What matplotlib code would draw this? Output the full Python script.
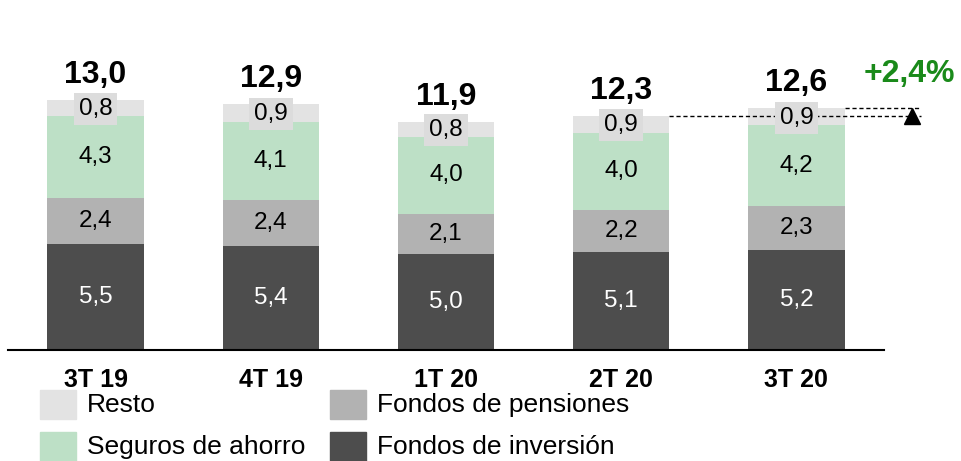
import matplotlib
matplotlib.use("Agg")
import matplotlib.pyplot as plt
from matplotlib.patches import Rectangle

plt.rcParams['font.family'] = ['Liberation Sans', 'DejaVu Sans']

categories = ["3T 19", "4T 19", "1T 20", "2T 20", "3T 20"]
fondos_inversion = [5.5, 5.4, 5.0, 5.1, 5.2]
fondos_pensiones = [2.4, 2.4, 2.1, 2.2, 2.3]
seguros_ahorro = [4.3, 4.1, 4.0, 4.0, 4.2]
resto = [0.8, 0.9, 0.8, 0.9, 0.9]
totals = [13.0, 12.9, 11.9, 12.3, 12.6]
totals_txt = ["13,0", "12,9", "11,9", "12,3", "12,6"]
growth_txt = "+2,4%"

series = [
    ("Fondos de inversión", fondos_inversion, "#4d4d4d", "white"),
    ("Fondos de pensiones", fondos_pensiones, "#b2b2b2", "black"),
    ("Seguros de ahorro", seguros_ahorro, "#bde0c6", "black"),
    ("Resto", resto, "#e3e3e3", "black"),
]

W, H = 961, 461
fig = plt.figure(figsize=(W / 100, H / 100), dpi=100)
ax = fig.add_axes([8 / W, 111 / H, 876 / W, 350 / H])
ax.set_xlim(-0.5, 4.5)
ax.set_ylim(0, 350 / 19.2)

x = list(range(len(categories)))
bw = 0.55
bottom = [0.0] * len(x)
for name, vals, col, tcol in series:
    ax.bar(x, vals, bw, bottom=bottom, color=col, zorder=2)
    for i, v in enumerate(vals):
        lbl = f"{v:.1f}".replace(".", ",")
        yc = bottom[i] + v / 2
        if name == "Resto":
            ax.text(i, yc - 0.05, lbl, ha="center", va="center", fontsize=17.5, color=tcol, zorder=5,
                    bbox=dict(boxstyle="square,pad=0.2", fc="#dcdcdc", ec="none"))
        else:
            ax.text(i, yc, lbl, ha="center", va="center", fontsize=17.5, color=tcol, zorder=5)
    bottom = [b + v for b, v in zip(bottom, vals)]

for i, t in enumerate(totals):
    ax.annotate(totals_txt[i], (i, bottom[i]), xytext=(0, 18), textcoords="offset points",
                ha="center", va="center", fontsize=23, fontweight="bold", zorder=6)

# dashed comparison lines
xend = 4.71
ax.plot([3 + bw / 2, xend], [bottom[3], bottom[3]], ls=(0, (3, 2)), color="black", lw=1, zorder=4, clip_on=False)
ax.plot([4 + bw / 2, xend], [bottom[4], bottom[4]], ls=(0, (3, 2)), color="black", lw=1, zorder=4, clip_on=False)
ax.plot([4.66], [12.2], marker="^", color="black", markersize=12, clip_on=False, zorder=6)
ax.text(4.645, 14.35, growth_txt, ha="center", va="center", fontsize=23, fontweight="bold",
        color="#1a8a1a", clip_on=False)

for s in ["top", "left", "right"]:
    ax.spines[s].set_visible(False)
ax.spines["bottom"].set_linewidth(1.5)
ax.spines["bottom"].set_zorder(3)
ax.set_yticks([])
ax.set_xticks(x)
ax.set_xticklabels(categories, fontsize=18, fontweight="bold")
ax.tick_params(axis="x", length=0, pad=13)

# legend (manual)
legend_items = [
    ("Resto", "#e3e3e3", 40, 390),
    ("Fondos de pensiones", "#b2b2b2", 330, 390),
    ("Seguros de ahorro", "#bde0c6", 40, 432),
    ("Fondos de inversión", "#4d4d4d", 330, 432),
]
for name, col, px, py in legend_items:
    fig.patches.append(Rectangle((px / W, 1 - (py + 29) / H), 36 / W, 29 / H,
                                 transform=fig.transFigure, color=col))
    fig.text((px + 47) / W, 1 - (py + 15) / H, name, ha="left", va="center", fontsize=19)

fig.savefig("out.png", dpi=100)
